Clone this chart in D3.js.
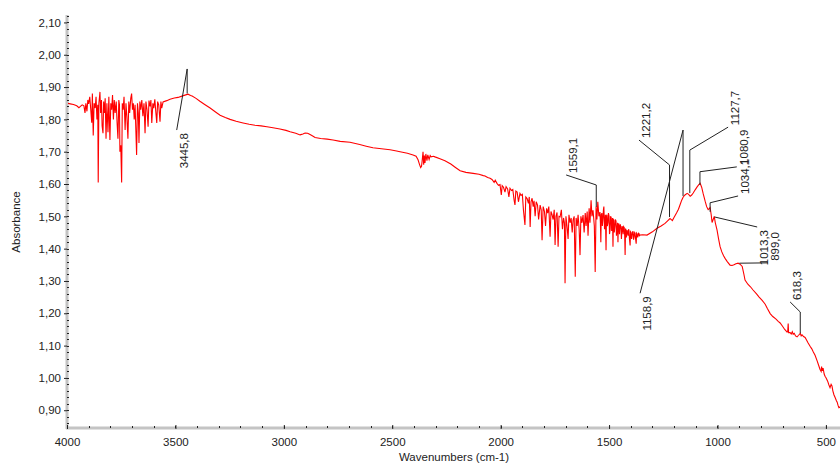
<!DOCTYPE html>
<html lang="en">
  <head>
    <meta charset="UTF-8" />
    <title>IR spectrum</title>
    <script src="https://cdn.jsdelivr.net/npm/d3@7"></script>
    <style>
      body { margin: 0; background: #fff; }
      text { font-family: "Liberation Sans", Arial, sans-serif; fill: #222; }
    </style>
  </head>
  <body>
    <div class="chart"></div>
    <script>
    // spectrum (wavenumber cm-1, absorbance)
    var wavenumbers = [4000,3985,3970,3955,3945,3938,3930,3922,3917,3913,3908,3904,3900,3895,3891,3886,3883,3879,3875,3870,
      3866,3862,3858,3856,3853,3850,3848,3845,3841,3838,3834,3831,3827,3824,3820,3816,3811,3807,3802,3798,
      3794,3790,3786,3782,3778,3773,3769,3765,3761,3758,3756,3752,3748,3745,3741,3737,3732,3728,3724,3719,
      3715,3711,3706,3702,3698,3694,3690,3686,3679,3675,3671,3668,3664,3660,3655,3650,3645,3640,3636,3631,
      3626,3622,3617,3613,3609,3604,3600,3595,3590,3586,3582,3577,3571,3567,3563,3557,3540,3525,3505,3488,
      3470,3456,3442,3430,3423,3405,3387,3365,3340,3315,3294,3270,3248,3220,3188,3160,3133,3105,3078,3050,
      3018,2990,2971,2945,2925,2912,2902,2890,2879,2865,2856,2830,2800,2773,2740,2695,2650,2620,2589,2550,
      2510,2480,2464,2430,2404,2390,2381,2374,2369,2365,2362,2358,2355,2352,2349,2345,2340,2336,2330,2325,
      2321,2310,2303,2280,2257,2230,2210,2187,2160,2127,2100,2080,2072,2060,2049,2040,2030,2025,2017,2010,
      2003,1997,1993,1987,1980,1975,1968,1962,1957,1950,1944,1938,1934,1930,1924,1918,1911,1906,1900,1895,
      1888,1884,1878,1872,1868,1864,1860,1855,1850,1846,1841,1836,1830,1825,1818,1813,1809,1804,1798,1793,
      1788,1783,1778,1772,1768,1763,1758,1753,1749,1745,1740,1735,1731,1726,1720,1715,1710,1706,1703,1699,
      1694,1689,1685,1680,1675,1670,1666,1661,1656,1652,1647,1643,1638,1634,1630,1625,1620,1615,1610,1606,
      1601,1597,1592,1588,1583,1579,1574,1568,1564,1560,1556,1552,1547,
      1542,1540,1538,1536,1533,1531,1528,1526,1524,1521,1519,1517,1514,1512,1510,1508,1505,1503,1500,1498,
      1495,1493,1490,1488,1486,1484,1482,1480,1478,1476,1473,1471,1468,1466,1464,1461,1459,1457,1455,1452,
      1450,1448,1445,1443,1440,1438,1435,1433,1430,1428,1426,1424,1422,1420,1417,1415,1412,1410,1408,1406,
      1403,1401,1399,1396,1394,1392,1389,1387,1385,1382,1380,1378,1375,1373,1371,1368,1366,1364,1362,1360,
      1357,1345,1325,1300,1279,1260,1242,
      1230,1219,1213,1208,1200,1189,1180,1173,1165,1158,1150,1140,1133,1126,1119,1112,1103,1094,1087,1080,
      1073,1066,1060,1057,1050,1043,1038,1034,1029,1025,1020,1015,1010,1002,995,988,980,972,965,955,
      942,933,924,915,905,896,886,878,873,860,848,836,820,808,794,780,770,757,745,730,
      720,711,700,690,679,676,674,672,665,660,655,651,646,640,633,626,618,614,610,603,
      596,590,582,573,565,558,550,540,534,527,522,520,516,513,508,504,499,492,486,481,
      476,472,468,463,458,452,448,444,440,435,430,420,410,400];

    var absorbance = [1.850,1.848,1.846,1.842,1.836,1.840,1.845,1.842,1.820,1.850,1.825,1.860,1.848,1.870,1.835,1.790,1.880,1.750,1.850,1.835,
      1.870,1.800,1.845,1.605,1.850,1.870,1.885,1.820,1.860,1.780,1.757,1.855,1.820,1.865,1.740,1.850,1.760,1.870,1.736,1.850,
      1.830,1.875,1.800,1.860,1.820,1.855,1.790,1.740,1.860,1.845,1.700,1.720,1.605,1.850,1.830,1.870,1.767,1.850,1.810,1.740,
      1.855,1.820,1.865,1.880,1.830,1.850,1.800,1.845,1.690,1.850,1.820,1.727,1.855,1.830,1.860,1.810,1.850,1.757,1.855,1.830,
      1.777,1.858,1.840,1.860,1.789,1.850,1.835,1.862,1.820,1.789,1.855,1.845,1.793,1.855,1.835,1.854,1.858,1.862,1.866,1.868,
      1.872,1.875,1.878,1.874,1.872,1.865,1.856,1.846,1.835,1.823,1.813,1.806,1.800,1.794,1.789,1.785,1.782,1.780,1.777,1.774,
      1.770,1.766,1.762,1.757,1.752,1.755,1.758,1.757,1.753,1.748,1.744,1.741,1.739,1.736,1.732,1.729,1.722,1.717,1.712,1.709,
      1.706,1.702,1.700,1.695,1.690,1.686,1.675,1.660,1.651,1.655,1.672,1.700,1.660,1.688,1.665,1.693,1.672,1.690,1.676,1.688,
      1.684,1.686,1.684,1.678,1.672,1.662,1.652,1.641,1.636,1.633,1.630,1.626,1.625,1.620,1.618,1.614,1.605,1.612,1.602,1.596,
      1.598,1.566,1.595,1.590,1.575,1.592,1.585,1.560,1.587,1.580,1.583,1.550,1.535,1.578,1.575,1.545,1.571,1.565,1.568,1.520,
      1.473,1.560,1.555,1.540,1.560,1.467,1.545,1.556,1.530,1.548,1.500,1.545,1.535,1.490,1.535,1.520,1.426,1.530,1.515,1.470,
      1.525,1.510,1.530,1.437,1.515,1.505,1.490,1.520,1.411,1.500,1.512,1.406,1.500,1.498,1.520,1.460,1.495,1.480,1.293,1.500,
      1.470,1.430,1.505,1.480,1.495,1.450,1.488,1.500,1.313,1.495,1.470,1.505,1.460,1.380,1.500,1.480,1.504,1.450,1.510,1.470,
      1.515,1.440,1.525,1.480,1.550,1.500,1.519,1.470,1.328,1.530,1.490,1.545,1.500,
      1.513,1.480,1.420,1.505,1.510,1.470,1.495,1.520,1.530,1.460,1.470,1.505,1.395,1.500,1.505,1.470,1.480,1.510,1.500,1.445,
      1.460,1.500,1.495,1.455,1.470,1.495,1.406,1.490,1.488,1.450,1.470,1.490,1.485,1.440,1.455,1.480,1.420,1.475,1.478,1.445,
      1.470,1.475,1.460,1.430,1.470,1.465,1.445,1.468,1.465,1.440,1.380,1.462,1.458,1.435,1.457,1.450,1.440,1.460,1.455,1.430,
      1.410,1.452,1.450,1.430,1.440,1.452,1.452,1.428,1.435,1.450,1.448,1.432,1.415,1.448,1.446,1.435,1.440,1.448,1.447,1.440,
      1.442,1.443,1.442,1.452,1.463,1.470,1.478,
      1.486,1.493,1.490,1.487,1.497,1.510,1.522,1.535,1.550,1.560,1.566,1.571,1.568,1.562,1.566,1.572,1.582,1.591,1.597,1.602,
      1.590,1.570,1.555,1.547,1.530,1.521,1.524,1.527,1.505,1.481,1.490,1.500,1.480,1.457,1.430,1.406,1.390,1.378,1.370,1.360,
      1.349,1.348,1.350,1.353,1.355,1.352,1.345,1.320,1.303,1.290,1.282,1.272,1.260,1.250,1.240,1.228,1.215,1.199,1.190,1.182,
      1.175,1.170,1.160,1.150,1.142,1.145,1.168,1.140,1.140,1.136,1.143,1.135,1.138,1.130,1.127,1.132,1.138,1.130,1.133,1.128,
      1.125,1.118,1.108,1.098,1.090,1.080,1.070,1.052,1.040,1.026,1.020,1.035,1.022,1.030,1.012,1.005,1.000,0.990,0.978,0.970,
      0.980,0.975,0.960,0.948,0.940,0.930,0.925,0.915,0.908,0.910,0.905,0.900,0.890,0.885];

    // peak labels
    var peakWn     = [3445.8, 1559.1, 1221.2, 1158.9, 1127.7, 1080.9, 1034.1, 1013.3, 899.0, 618.3];
    var peakAbs    = [1.880, 1.529, 1.498, 1.563, 1.572, 1.597, 1.514, 1.498, 1.355, 1.138];
    var elbowAbs   = [1.956, 1.597, 1.659, 1.767, 1.705, 1.638, 1.542, null, null, 1.204];
    var labelWn    = [3494, 1698, 1362, 1357, 951, 911, 905, 817, 767, 665];
    var labelAbs   = [1.767, 1.628, 1.736, 1.262, 1.776, 1.653, 1.563, 1.467, 1.356, 1.235];
    var labelBelow = [true, false, false, true, false, false, false, true, false, false];

    var xMajor = [4000, 3500, 3000, 2500, 2000, 1500, 1000, 500];
    var yMajor = [0.90, 1.00, 1.10, 1.20, 1.30, 1.40, 1.50, 1.60, 1.70, 1.80, 1.90, 2.00, 2.10];

    var w = 840, h = 465;
    var padL = 67, padR = 840, padT = 15, padB = 428;

    var svg = d3.select(".chart").append("svg")
                .attr("width", w)
                .attr("height", h);

    var x = d3.scaleLinear().domain([4000, 435]).range([padL, padR]);
    var y = d3.scaleLinear().domain([0.845, 2.123]).range([padB, padT]);

    var comma = function(f) { return function(d) { return d3.format(f)(d).replace(".", ","); }; };

    // minor ticks
    var xMinor = d3.range(4000, 400, -100);
    var yMinor = d3.range(0.86, 2.121, 0.02);

    // axis lines
    svg.append("line")
       .attr("x1", padL).attr("x2", padL)
       .attr("y1", padT).attr("y2", padB + 1)
       .attr("stroke", "#c4c4c4").attr("stroke-width", 3);
    svg.append("line")
       .attr("x1", padL - 1).attr("x2", padR)
       .attr("y1", padB).attr("y2", padB)
       .attr("stroke", "#c4c4c4").attr("stroke-width", 3);

    svg.append("g").selectAll("line")
       .data(yMinor).enter().append("line")
       .attr("x1", padL).attr("x2", padL + 2)
       .attr("y1", function(d) { return Math.round(y(d)) + 0.5; })
       .attr("y2", function(d) { return Math.round(y(d)) + 0.5; })
       .attr("stroke", "#222");
    svg.append("g").selectAll("line")
       .data(xMinor).enter().append("line")
       .attr("x1", function(d) { return Math.round(x(d)) + 0.5; })
       .attr("x2", function(d) { return Math.round(x(d)) + 0.5; })
       .attr("y1", padB - 2).attr("y2", padB)
       .attr("stroke", "#222");

    var yAxis = d3.axisLeft(y).tickValues(yMajor).tickSize(3).tickPadding(3).tickFormat(comma(".2f"));
    var gy = svg.append("g").attr("transform", "translate(" + padL + ",0)").call(yAxis);
    gy.select(".domain").remove();
    gy.selectAll(".tick line").attr("stroke", "#222");
    gy.selectAll(".tick text").style("font-size", "11.5px").attr("fill", "#222");

    var xAxis = d3.axisBottom(x).tickValues(xMajor).tickSize(-4).tickPadding(9).tickFormat(d3.format("d"));
    var gx = svg.append("g").attr("transform", "translate(0," + (padB + 1) + ")").call(xAxis);
    gx.select(".domain").remove();
    gx.selectAll(".tick line").attr("stroke", "#222");
    gx.selectAll(".tick text").style("font-size", "11.5px").attr("fill", "#222");

    svg.append("text")
       .attr("transform", "translate(20,222) rotate(-90)")
       .attr("text-anchor", "middle")
       .style("font-size", "11.5px")
       .text("Absorbance");

    svg.append("text")
       .attr("x", 454).attr("y", 461)
       .attr("text-anchor", "middle")
       .style("font-size", "11.5px")
       .text("Wavenumbers (cm-1)");

    // spectrum
    var spectrum = wavenumbers.map(function(d, i) { return [d, absorbance[i]]; });
    svg.append("clipPath").attr("id", "plot")
       .append("rect").attr("x", padL + 1).attr("y", padT).attr("width", padR - padL).attr("height", padB - padT - 1);

    var line = d3.line()
                 .x(function(d) { return x(d[0]); })
                 .y(function(d) { return y(d[1]); });

    svg.append("path")
       .datum(spectrum)
       .attr("clip-path", "url(#plot)")
       .attr("d", line)
       .attr("fill", "none")
       .attr("stroke", "#ff0000")
       .attr("stroke-width", 1.1);

    // peak annotations
    var peaks = peakWn.map(function(d, i) {
      return { wn: d, v: peakAbs[i], elbow: elbowAbs[i], lwn: labelWn[i], lv: labelAbs[i], below: labelBelow[i] };
    });

    var ann = svg.append("g").attr("class", "peaks");
    peaks.forEach(function(p) {
      var pts = [[x(p.wn), y(p.v)]];
      if (p.elbow !== null) pts.push([x(p.wn), y(p.elbow)]);
      pts.push([x(p.lwn), y(p.lv)]);
      ann.append("path")
         .attr("d", d3.line()(pts))
         .attr("fill", "none")
         .attr("stroke", "#222")
         .attr("stroke-width", 1);
      var tx = x(p.lwn) + 11, ty = p.below ? y(p.lv) + 3 : y(p.lv) - 2;
      ann.append("text")
         .attr("transform", "translate(" + tx + "," + ty + ") rotate(-90)")
         .attr("text-anchor", p.below ? "end" : "start")
         .style("font-size", "11.5px")
         .text(comma(".1f")(p.wn));
    });
    </script>
  </body>
</html>
